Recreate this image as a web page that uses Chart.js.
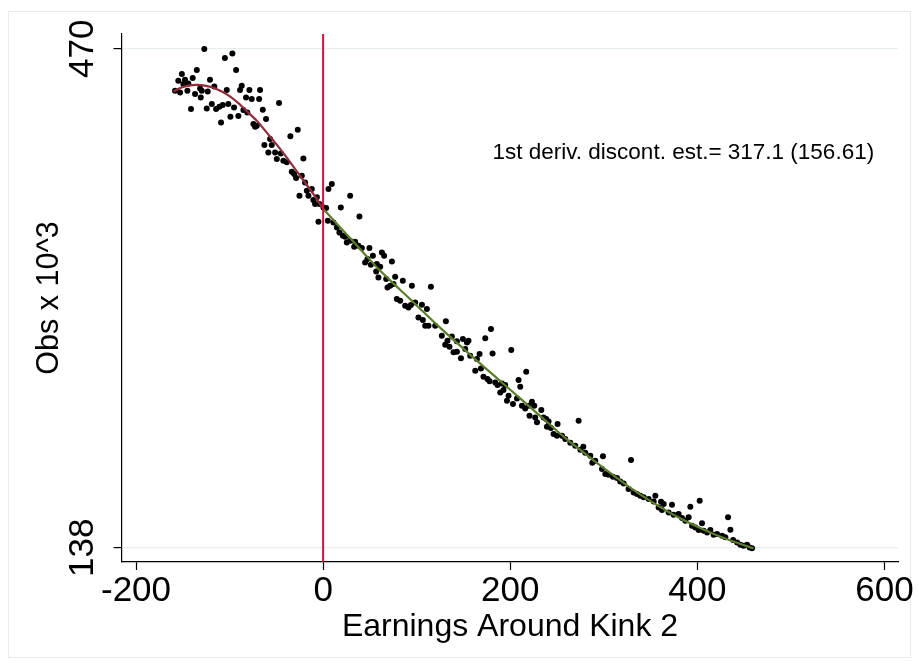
<!DOCTYPE html>
<html><head><meta charset="utf-8">
<script src="https://cdn.jsdelivr.net/npm/chart.js@4.4.1/dist/chart.umd.min.js"></script>
<style>html,body{margin:0;padding:0;background:#fff;}#wrap{width:919px;height:669px;}</style>
</head><body><div id="wrap"><canvas id="c" width="919" height="669"></canvas></div>
<script>
const xTickValues = [-200, 0, 200, 400, 600];
const yTickValues = [138, 470];
const xLimits = [-215.5, 615];
const yLimits = [128.5, 479.8];
const kinkX = 0;
const xTitle = 'Earnings Around Kink 2';
const yTitle = 'Obs x 10^3';
const noteText = '1st deriv. discont. est.= 317.1 (156.61)';
const notePos = [385, 401];

const obsPoints = [
[-127,469.8],[-105,463.8],[-97,466.9],[-93,455.8],[-135,455.8],[-151,453.2],[-139.4,450.5],[-154.8,448.7],[-147.6,449.4],[-149.4,446.5],[-144,446.9],[-120.9,449.4],[-158.3,442.1],[-152.9,440.9],[-145.1,442.1],[-136.9,439.9],[-131.5,443.6],[-129.7,442.1],[-130.8,437.6],[-123.3,441.6],[-116.3,444.9],[-103,442.5],[-88.8,442.5],[-87,445.4],[-78.8,442.5],[-67.4,442.5],[-82.4,437.6],[-76.3,436.5],[-68.4,436.5],[-141.2,429.9],[-124.4,430.3],[-119,433.2],[-114.4,429.9],[-110.9,431.4],[-107.3,432.5],[-101.3,433.2],[-95.2,430.9],[-85.2,429.2],[-81,427.6],[-64.5,429.4],[-47.1,433.9],[-109.1,421],[-99.1,424.8],[-90.6,425.2],[-74.5,419.9],[-72.7,418.1],[-70.9,418.8],[-61,423.2],[-27.1,416.1],[-35,411.7],[-56.7,409.9],[-62.8,405.9],[-54.9,405.9],[-58.5,401],[-51.3,401],[-45.2,400.3],[-49.5,396.6],[-42.5,395.5],[-38.8,394.4],[-21.1,397],[-33.5,388.2],[-31,386.6],[-28.9,384],[-22.8,385.5],[-19.3,381],[-17.4,375.5],[-12.1,376.7],[-25.3,372.2],[-15.7,372.2],[-10.4,369.3],[-6.7,371.1],[-4,366.7],[0.3,364.4],[5.7,376.7],[-8.6,366.7],[-5,354.9],
[9.3,380],[28.9,372.2],[3.2,364],[18.9,364.4],[38.8,358.4],[5,355.6],[11,354.4],[14.7,351.1],[17.4,347.8],[21.1,345.6],[23.5,344.9],[25.3,341.1],[28.9,342.3],[34.2,341.6],[33.2,338.3],[37.8,338.9],[41.4,337.4],[49.5,337.4],[62.8,334.5],[65.2,332.3],[53.2,332.3],[47.4,330.1],[44.9,327.8],[51,326.3],[57.4,326.8],[61,325],[73.5,328.5],[56.7,321.8],[59.1,317.8],[67.4,316.8],[77,318.3],[85.2,315.7],[71.7,312.3],[68.8,311.2],[75.2,313.5],[94.9,312.3],[115.2,311.7],[78.8,303.5],[82.4,302.3],[87.7,299],[91.2,297.9],[93.8,299.5],[98.4,301.2],[105.6,299.7],[110.9,296.8],[101.9,291.2],[106.6,289.5],[109.1,285.7],[112.6,285.7],[119.8,285.7],[131.2,288.6],
[126.9,279.1],[130.5,273.1],[132.9,275.7],[137.6,278.6],[135.1,271.7],[139.4,268],[143,268.4],[143,275.3],[149.4,276.9],[153.7,274.6],[155.4,275.7],[151.9,270.2],[147.3,264],[157.2,265.8],[164.4,263.6],[167.2,266.9],[173.3,277.3],[179.4,283.5],[181.1,267.3],[201.1,269.5],[162.6,255.8],[168.7,257.3],[171.4,251.8],[175.7,250.2],[177.9,248.7],[184,248],[186.4,246.3],[191.1,247.3],[194.6,246.3],[217.1,255.1],[208.9,249.6],[210.7,245.1],[189.3,241.3],[192.8,242.9],[198.2,239.1],[196.5,235.8],[202.9,233.6],[207.2,237.3],[212.5,232.5],[216,230.7],[219.6,232.5],[223.2,235.1],[225.7,232.5],[220.6,225.8],[226.7,224.7],[228.6,221.4],[233.2,229.6],[235.6,224.7],[238.5,223.6],[241,222],[239.2,218.5],[243.5,217.7],[250.6,220.3],[273.1,222.5],[246.3,213.7],[249.9,212.5],[255.3,212.5],[258.8,210.3],
[264.2,207.9],[269.5,205.9],[274.9,203.2],[280.2,201.2],[285.6,199.2],[290.9,195.9],[278.1,205.2],[287.7,194.6],
[299.1,198.8],[329.1,196.4],[298.1,190.4],[301.6,187],[305.1,186.6],[309.8,185.3],[314.1,184.4],[317.6,182.1],[321.2,180.8],[326.5,177.1],[331.9,174.8],[335.5,173.7],[339,172.6],[342.6,171.5],[347.9,170.4],[355.1,172.6],[353.3,168.8],[358.6,164.8],[361.2,168.6],[364,167.1],[362.2,163.1],[369.3,161.5],[372.9,166.6],[374.6,160],[380,160.4],[383.6,157.8],[387.2,156],[390.7,158.2],[392.5,165.3],[402.5,169.3],[394.3,152.7],[397.9,151.5],[401.4,149.8],[405,154.2],[406.7,149.3],[410.4,148.2],[413.9,149.8],[417.4,146.7],[421.1,147.1],[426.4,146],[429.9,144.9],[432.8,158.2],[435.3,150],[438.2,143.1],[442.5,141.5],[446,140],[449.5,139.3],[453.2,140],[455.9,138.2],[458.5,137.6]
];

const leftFitX = [-160,-150,-140,-130,-120,-110,-100,-90,-80,-70,-60,-50,-40,-30,-20,-10,0];
const leftFitY = [441.6,444.5,445.8,445.8,444.5,442,438.5,433.5,427.5,421.5,414,406.5,398.5,390,381.5,373,363.5];
const rightFitX = [0,20,40,60,80,100,120,140,160,180,200,220,240,260,280,300,320,340,360,380,400,420,440,460];
const rightFitY = [363.5,349.9,336.5,322.9,311.0,299.2,287.3,276.0,264.8,254.0,243.1,232.2,221.3,210.4,200.6,190.9,181.7,173.0,165.2,158.1,151.9,146.5,141.8,137.6];

const FONT = "'Liberation Sans', Arial, Helvetica, sans-serif";
const zip = (xs, ys) => xs.map((x, i) => ({x: x, y: ys[i]}));

const framePlugin = {
  id: 'frame',
  beforeDraw(chart) {
    const ctx = chart.ctx;
    ctx.save();
    ctx.fillStyle = '#ffffff';
    ctx.fillRect(0, 0, chart.width, chart.height);
    ctx.strokeStyle = '#e4ecee';
    ctx.lineWidth = 1;
    ctx.strokeRect(8.5, 11.5, chart.width - 17, chart.height - 23);
    ctx.restore();
  }
};
const kinkPlugin = {
  id: 'kink',
  afterDatasetsDraw(chart) {
    const ctx = chart.ctx, a = chart.chartArea;
    const px = chart.scales.x.getPixelForValue(kinkX);
    ctx.save();
    ctx.strokeStyle = '#c8163c';
    ctx.lineWidth = 2;
    ctx.beginPath();
    ctx.moveTo(px, a.top);
    ctx.lineTo(px, a.bottom);
    ctx.stroke();
    ctx.restore();
  }
};
const notePlugin = {
  id: 'note',
  afterDraw(chart) {
    const ctx = chart.ctx;
    const px = chart.scales.x.getPixelForValue(notePos[0]);
    const py = chart.scales.y.getPixelForValue(notePos[1]);
    ctx.save();
    ctx.fillStyle = '#000';
    ctx.font = '22.5px ' + FONT;
    ctx.textAlign = 'center';
    ctx.textBaseline = 'middle';
    ctx.fillText(noteText, px, py);
    ctx.restore();
  }
};

new Chart(document.getElementById('c'), {
  type: 'scatter',
  data: {
    datasets: [
      { data: zip(rightFitX, rightFitY), showLine: true, borderColor: '#5b7d2c', borderWidth: 2.2, pointRadius: 0, tension: 0.3, order: 1 },
      { data: zip(leftFitX, leftFitY), showLine: true, borderColor: '#8e2d3b', borderWidth: 2.2, pointRadius: 0, tension: 0.3, order: 1 },
      { data: obsPoints.map(p => ({x: p[0], y: p[1]})), showLine: false, pointRadius: 3, pointBackgroundColor: '#000', pointBorderWidth: 0, order: 3 }
    ]
  },
  options: {
    responsive: false,
    animation: false,
    events: [],
    layout: { padding: { left: 0, top: 34, right: 20.5, bottom: 0 } },
    plugins: { legend: { display: false }, tooltip: { enabled: false } },
    scales: {
      x: {
        type: 'linear', min: xLimits[0], max: xLimits[1],
        afterBuildTicks(s) { s.ticks = xTickValues.map(v => ({value: v})); },
        afterFit(s) { s.height = 107; s.paddingLeft = 0; s.paddingRight = 0; },
        ticks: { color: '#000', font: { family: FONT, size: 35 }, padding: 0, maxRotation: 0, autoSkip: false, callback: v => String(v) },
        grid: { drawOnChartArea: false, tickLength: 8, tickColor: '#000', tickWidth: 1.2 },
        border: { color: '#000', width: 1.2 },
        title: { display: true, text: xTitle, color: '#000', font: { family: FONT, size: 32 }, padding: { top: 0, bottom: 23 } }
      },
      y: {
        type: 'linear', min: yLimits[0], max: yLimits[1],
        afterBuildTicks(s) { s.ticks = yTickValues.map(v => ({value: v})); },
        afterFit(s) { s.width = 121.5; s.paddingTop = 0; s.paddingBottom = 0; },
        ticks: { color: '#000', font: { family: FONT, size: 35 }, padding: 1, minRotation: 90, maxRotation: 90, crossAlign: 'center', autoSkip: false, callback: v => String(v) },
        grid: { color: '#e6eef0', lineWidth: 1.2, tickLength: 8, tickColor: '#000', tickWidth: 1.2 },
        border: { color: '#000', width: 1.2 },
        title: { display: true, text: yTitle, color: '#000', font: { family: FONT, size: 30.5 }, padding: { top: 31, bottom: 0 } }
      }
    }
  },
  plugins: [framePlugin, kinkPlugin, notePlugin]
});
</script></body></html>
